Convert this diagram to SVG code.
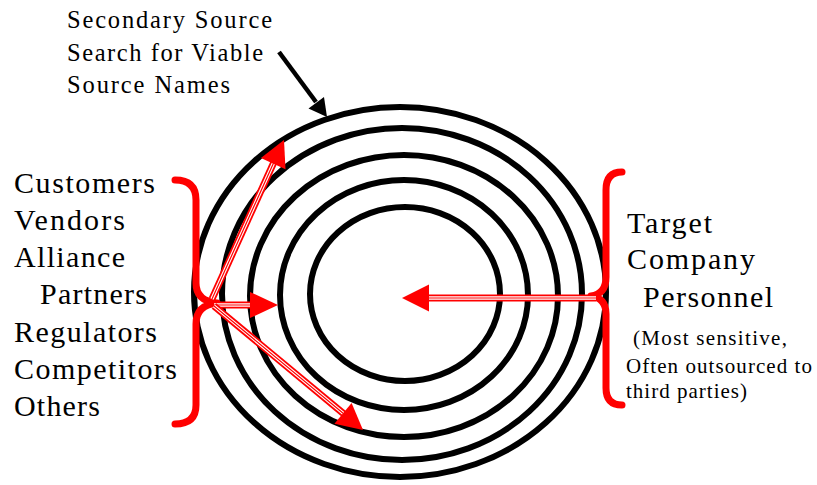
<svg xmlns="http://www.w3.org/2000/svg" width="817" height="485" viewBox="0 0 817 485">
<style>
.ring{fill:none;stroke:#000;stroke-width:6}
.brace{fill:none;stroke:#ff0000;stroke-width:7;stroke-linecap:round;stroke-linejoin:round}
.sh1{stroke:#ff0000;stroke-width:7;fill:none}
.sh2{stroke:#fff;stroke-width:3.4;fill:none}
.sh3{stroke:#ff0000;stroke-width:1.2;fill:none}
.head{fill:#ff0000;stroke:none}
.t{font-family:"Liberation Serif","Times New Roman",serif;fill:#000}
.big{font-size:30px}
.mid{font-size:24.5px}
.sm{font-size:21px}
</style>
<rect width="817" height="485" fill="#fff"/>
<g id="rings">
<ellipse class="ring" cx="400" cy="292" rx="206" ry="185"/>
<ellipse class="ring" cx="402" cy="294" rx="180" ry="166"/>
<ellipse class="ring" cx="404" cy="296" rx="154" ry="141"/>
<ellipse class="ring" cx="404" cy="295" rx="124" ry="115"/>
<ellipse class="ring" cx="405" cy="294" rx="95" ry="87"/>
</g>
<g id="label-secondary">
<text class="t mid" x="67" y="28" textLength="205" lengthAdjust="spacing">Secondary Source</text>
<text class="t mid" x="67" y="61" textLength="196" lengthAdjust="spacing">Search for Viable</text>
<text class="t mid" x="67" y="93" textLength="163" lengthAdjust="spacing">Source Names</text>
</g>
<g id="label-external">
<text class="t big" x="14" y="193" textLength="141" lengthAdjust="spacing">Customers</text>
<text class="t big" x="14" y="230" textLength="111" lengthAdjust="spacing">Vendors</text>
<text class="t big" x="14" y="267" textLength="111" lengthAdjust="spacing">Alliance</text>
<text class="t big" x="40" y="304" textLength="107" lengthAdjust="spacing">Partners</text>
<text class="t big" x="14" y="342" textLength="143" lengthAdjust="spacing">Regulators</text>
<text class="t big" x="14" y="379" textLength="163" lengthAdjust="spacing">Competitors</text>
<text class="t big" x="14" y="416" textLength="86" lengthAdjust="spacing">Others</text>
</g>
<g id="label-target">
<text class="t big" x="627" y="233" textLength="85" lengthAdjust="spacing">Target</text>
<text class="t big" x="627" y="269" textLength="128" lengthAdjust="spacing">Company</text>
<text class="t big" x="643" y="307" textLength="130" lengthAdjust="spacing">Personnel</text>
<text class="t sm" x="633" y="345" textLength="154" lengthAdjust="spacing">(Most sensitive,</text>
<text class="t sm" x="626" y="373" textLength="186" lengthAdjust="spacing">Often outsourced to</text>
<text class="t sm" x="626" y="398" textLength="121" lengthAdjust="spacing">third parties)</text>
</g>
<g id="brace-left">
<path class="brace" d="M175,180 Q196,180 196,200 L196,283 Q196,301 217,303 Q196,305 196,324 L196,405 Q196,424 175,424"/>
</g>
<g id="brace-right">
<path class="brace" d="M622,172 Q606,172 606,190 L606,277 Q606,294 591,296 Q606,298 606,314 L606,388 Q606,405 622,405"/>
</g>
<g id="connectors">
<line x1="279" y1="52" x2="316" y2="102" stroke="#000" stroke-width="4.5"/>
<polygon fill="#000" points="327,117 308.5,108.5 324,97"/>
<g id="arrow-target">
<line class="sh1" x1="596" y1="298" x2="428" y2="298"/>
<line class="sh2" x1="596" y1="298" x2="428" y2="298"/>
<line class="sh3" x1="596" y1="298" x2="428" y2="298"/>
<polygon class="head" points="402,298 429,284.5 429,311.5"/>
</g>
<g id="arrow-right">
<line class="sh1" x1="214" y1="305" x2="251" y2="305"/>
<line class="sh2" x1="214" y1="305" x2="251" y2="305"/>
<line class="sh3" x1="214" y1="305" x2="251" y2="305"/>
<polygon class="head" points="278,305 250,292 250,318"/>
</g>
<g id="arrow-up">
<line class="sh1" x1="212" y1="299" x2="274" y2="162"/>
<line class="sh2" x1="212" y1="299" x2="274" y2="162"/>
<line class="sh3" x1="212" y1="299" x2="274" y2="162"/>
<polygon class="head" points="284,140 285.5,169.3 260.9,158.1"/>
</g>
<g id="arrow-down">
<line class="sh1" x1="214" y1="306" x2="344" y2="414"/>
<line class="sh2" x1="214" y1="306" x2="344" y2="414"/>
<line class="sh3" x1="214" y1="306" x2="344" y2="414"/>
<polygon class="head" points="363,430 351.6,403 334.4,423.8"/>
</g>
</g>
</svg>
